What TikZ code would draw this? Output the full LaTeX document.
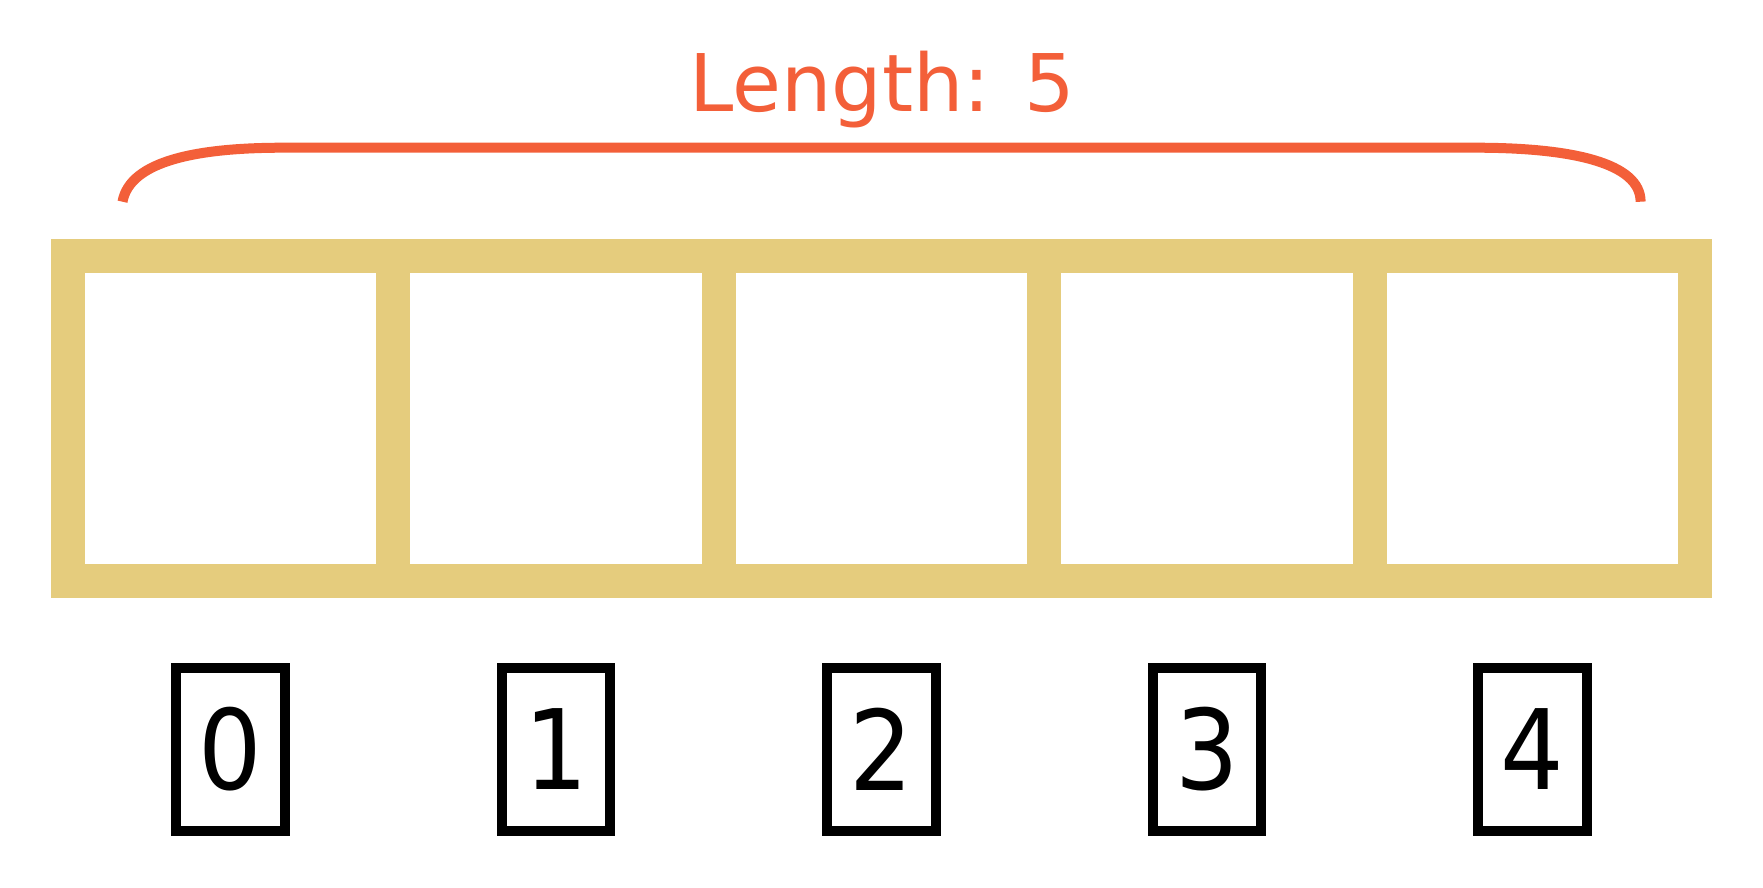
\documentclass[tikz,border=0pt]{standalone}
\usepackage{fontspec}
\setmainfont{DejaVu Sans}
\newfontfamily\idxfont{DejaVu Sans Condensed}
\definecolor{cellyellow}{RGB}{229,204,125}
\definecolor{lenorange}{RGB}{243,95,57}
\begin{document}
\begin{tikzpicture}[x=1pt, y=-1pt,
  cell/.style={draw=cellyellow, line width=33.7pt, minimum width=325.5pt, minimum height=325pt, inner sep=0pt},
  idx/.style={draw=black, line width=10pt, minimum width=108.8pt, minimum height=162.7pt, inner sep=0pt, font=\idxfont\fontsize{111}{111}\selectfont}]
 \useasboundingbox (0,0) rectangle (1763,887);
 \foreach \i in {0,...,4}
 {
     \node[cell] (c\i) at (230.45+325.5*\i, 418.4) {};
     \node[idx] (i\i) at (230.45+325.5*\i, 749.4) {\i};
 }
 \node[anchor=base, text=lenorange, font=\fontsize{79.5}{79.5}\selectfont] (len) at (882,111) {Length: 5};
 \draw[lenorange, line width=10pt](122.5,201.7) .. controls (130,160) and (200,147.7) .. (283,147.7)
   --(1476,147.7) .. controls (1572,147.7) and (1640.6,163) .. (1640.6,201.7);
\end{tikzpicture}
\end{document}
